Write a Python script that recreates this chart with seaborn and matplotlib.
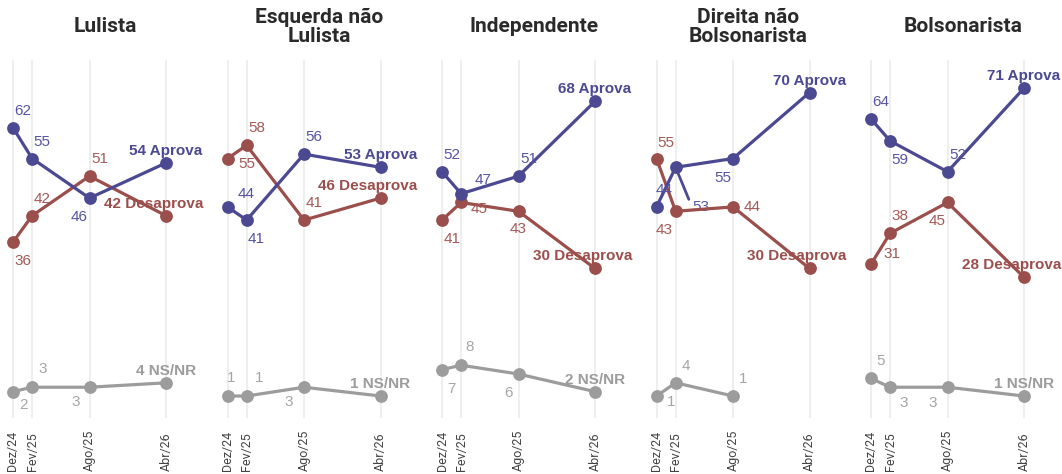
import matplotlib
matplotlib.use("Agg")
import matplotlib.pyplot as plt
import seaborn as sns
import pandas as pd

# ---------------- data ----------------
months = [0, 2, 8, 16]
tick_labels = ["Dez/24", "Fev/25", "Ago/25", "Abr/26"]
groups = ["Lulista", "Esquerda não\nLulista", "Independente",
          "Direita não\nBolsonarista", "Bolsonarista"]
series_names = ["Aprova", "Desaprova", "NS/NR"]

aprova = [[62, 55, 46, 54], [44, 41, 56, 53], [52, 47, 51, 68],
          [44, 53, 55, 70], [64, 59, 52, 71]]
desaprova = [[36, 42, 51, 42], [55, 58, 41, 46], [41, 45, 43, 30],
             [55, 43, 44, 30], [31, 38, 45, 28]]
nsnr = [[2, 3, 3, 4], [1, 1, 3, 1], [7, 8, 6, 2],
        [1, 4, 1, None], [5, 3, 3, 1]]

# ---------------- styles ----------------
line_col = {"Aprova": "#4c4993", "Desaprova": "#9b4f4c", "NS/NR": "#9c9c9c"}
lab_col = {"Aprova": "#5653a1", "Desaprova": "#a35a56", "NS/NR": "#a5a5a5"}

# value-label offsets in pixels (dx, dy; dy positive = down on screen)
UR, DR, DL = (10, -17), (10, 19), (-10, 19)
offsets = {
    0: {"Aprova": [UR, UR, DL], "Desaprova": [DR, UR, UR],
        "NS/NR": [(11, 13), (11, -18), (-14, 15)]},
    1: {"Aprova": [(19, -13), DR, UR], "Desaprova": [(19, 5), UR, UR],
        "NS/NR": [(4, -18), (13, -18), (-15, 15)]},
    2: {"Aprova": [UR, (22, -14), UR], "Desaprova": [DR, (18, 7), (0, 18)],
        "NS/NR": [(9, 19), (9, -18), (-10, 19)]},
    3: {"Aprova": [(8, -17), None, DL], "Desaprova": [(9, -16), (-11, 19), (19, 0)],
        "NS/NR": [(15, 6), (10, -17), (10, -17)]},
    4: {"Aprova": [UR, DR, UR], "Desaprova": [(21, -10), UR, DL],
        "NS/NR": [(10, -17), (14, 16), (-15, 16)]},
}

sns.set_theme(style="white")
plt.rcParams["font.family"] = ["Liberation Sans", "DejaVu Sans"]

W, H = 1062, 474
fig = plt.figure(figsize=(W / 100, H / 100), dpi=100)

px_per_month = 153 / 16
top_px, bot_px = 60, 418
ymin, ymax = -4.0, 77.4

end_anns = []
for i, g in enumerate(groups):
    x0 = 13 + 214.5 * i
    left_px = x0 - 8
    ax = fig.add_axes([left_px / W, (H - bot_px) / H, 200 / W, (bot_px - top_px) / H])
    ax.set_xlim(-8 / px_per_month, 192 / px_per_month)
    ax.set_ylim(ymin, ymax)

    for m in months:
        ax.axvline(m, color="#e9e9e9", lw=1.1, zorder=0)

    rows = []
    for name, arr in zip(series_names, [aprova, desaprova, nsnr]):
        for m, v in zip(months, arr[i]):
            if v is not None:
                rows.append({"mes": m, "valor": v, "serie": name})
    df = pd.DataFrame(rows)
    sns.lineplot(data=df, x="mes", y="valor", hue="serie",
                 hue_order=["NS/NR", "Desaprova", "Aprova"],
                 palette=line_col, marker="o", markersize=9.2,
                 markeredgewidth=0, linewidth=2.3, legend=False,
                 sort=False, ax=ax, zorder=3)

    for name, arr in zip(series_names, [aprova, desaprova, nsnr]):
        vals = arr[i]
        for k, (m, v) in enumerate(zip(months, vals)):
            if v is None or k == 3:
                continue
            off = offsets[i][name][k]
            if off is None:
                # label with leader line
                ax.annotate(str(v), xy=(m, v), xytext=(25, -40),
                            textcoords="offset pixels", ha="center", va="center",
                            fontsize=11, color=lab_col[name],
                            arrowprops=dict(arrowstyle="-", color=line_col[name],
                                            lw=2.0, shrinkA=0, shrinkB=0,
                                            relpos=(0, 0.5)),
                            zorder=2)
                continue
            ax.annotate(str(v), xy=(m, v), xytext=(off[0], -off[1]),
                        textcoords="offset pixels", ha="center", va="center",
                        fontsize=11, color=lab_col[name], zorder=5)
        # end label
        if vals[3] is not None:
            a = ax.annotate(f"{vals[3]} {name}", xy=(months[3], vals[3]),
                            xytext=(0, 12), textcoords="offset pixels",
                            ha="center", va="center", fontsize=11,
                            fontweight="bold", color=line_col[name], zorder=6,
                            annotation_clip=False)
            end_anns.append((a, x0 + 190))

    ax.set_xticks(months)
    ax.set_xticklabels(tick_labels, rotation=90, va="bottom", ha="center",
                       fontsize=9.0, color="#444444", family="Roboto")
    ax.tick_params(axis="x", length=0, pad=(471 - bot_px) * 0.72)
    ax.set_yticks([])
    ax.set_xlabel("")
    ax.set_ylabel("")
    for s in ax.spines.values():
        s.set_visible(False)
    ax.patch.set_alpha(0)

    fig.text((left_px + 100) / W, 1 - 27 / H, g, ha="center", va="center",
             fontsize=15, fontweight="bold", color="#2a2a2a",
             family="Roboto", linespacing=1.05)

# clamp end labels to the right edge of each panel
fig.canvas.draw()
r = fig.canvas.get_renderer()
for a, bound in end_anns:
    bb = a.get_window_extent(r)
    if bb.x1 > bound:
        dx, dy = a.xyann
        a.xyann = (dx - (bb.x1 - bound), dy)

fig.savefig("out.png", dpi=100)
